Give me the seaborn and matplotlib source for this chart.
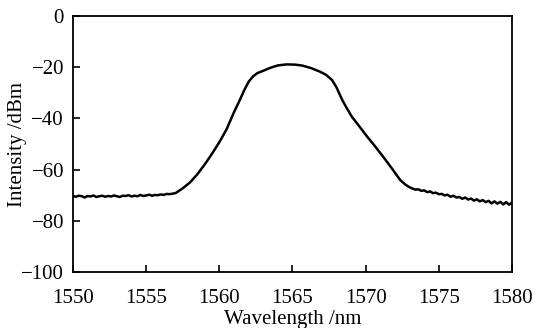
import numpy as np
import pandas as pd
import seaborn as sns
import matplotlib
matplotlib.use("Agg")
import matplotlib.pyplot as plt

# Wavelength (nm) and intensity (dBm)
wl_left = [1550.0, 1550.2, 1550.4, 1550.6, 1550.8, 1551.0, 1551.2, 1551.4, 1551.6, 1551.8,
           1552.0, 1552.2, 1552.4, 1552.6, 1552.8, 1553.0, 1553.2, 1553.4, 1553.6, 1553.8,
           1554.0, 1554.2, 1554.4, 1554.6, 1554.8, 1555.0, 1555.2, 1555.4, 1555.6, 1555.8,
           1556.0, 1556.2, 1556.4, 1556.6, 1556.8]
db_left = [-70.3, -70.6, -70.2, -70.4, -70.9, -70.3, -70.5, -70.1, -70.7, -70.4,
           -70.2, -70.6, -70.3, -70.5, -70.1, -70.4, -70.7, -70.2, -70.3, -70.0,
           -70.5, -70.2, -70.4, -69.9, -70.3, -70.1, -69.8, -70.2, -69.9, -70.0,
           -69.7, -69.9, -69.5, -69.6, -69.4]

wl_mid = [1557.0, 1557.5, 1558.0, 1558.5, 1559.0, 1559.5, 1560.0, 1560.5, 1561.0, 1561.4,
          1561.7, 1562.0, 1562.3, 1562.6, 1563.0, 1563.5, 1564.0, 1564.6, 1565.2, 1565.7,
          1566.3, 1566.9, 1567.3, 1567.7, 1568.0, 1568.4, 1568.7, 1569.05, 1569.5, 1570.1,
          1570.6, 1571.2, 1571.8, 1572.35, 1572.7, 1573.0]
db_mid = [-69.2, -67.3, -65.0, -61.8, -58.0, -53.8, -49.3, -44.2, -37.6, -32.8,
          -29.0, -25.7, -23.6, -22.3, -21.4, -20.2, -19.3, -18.9, -19.0, -19.4,
          -20.4, -21.8, -23.0, -25.0, -27.8, -32.8, -35.9, -39.3, -42.6, -47.1,
          -50.6, -55.0, -59.6, -64.0, -65.8, -66.9]

wl_right = [1573.2, 1573.4, 1573.6, 1573.8, 1574.0, 1574.2, 1574.4, 1574.6, 1574.8, 1575.0,
            1575.2, 1575.4, 1575.6, 1575.8, 1576.0, 1576.2, 1576.4, 1576.6, 1576.8, 1577.0,
            1577.2, 1577.4, 1577.6, 1577.8, 1578.0, 1578.2, 1578.4, 1578.6, 1578.8, 1579.0,
            1579.2, 1579.4, 1579.6, 1579.8, 1580.0]
db_right = [-67.4, -67.8, -67.7, -68.3, -68.1, -68.8, -68.5, -69.2, -69.0, -69.6,
            -69.5, -70.1, -69.8, -70.6, -70.2, -70.9, -70.7, -71.4, -70.9, -71.7,
            -71.3, -72.1, -71.6, -72.4, -71.9, -72.7, -72.2, -73.2, -72.4, -73.3,
            -72.6, -73.6, -72.7, -73.7, -72.8]

xticks = [1550, 1555, 1560, 1565, 1570, 1575, 1580]
yticks = [0, -20, -40, -60, -80, -100]

df = pd.DataFrame({
    "wl": wl_left + wl_mid + wl_right,
    "db": db_left + db_mid + db_right,
})

sns.set_theme(style="white")
plt.rcParams["font.family"] = ["Liberation Serif", "DejaVu Serif"]

fig = plt.figure(figsize=(5.34, 3.28), dpi=100)
ax = fig.add_axes([0.1367, 0.1707, 0.8221, 0.7805])
sns.lineplot(data=df, x="wl", y="db", ax=ax, color="black", linewidth=1.8, sort=False)

ax.set_xlim(1550, 1580)
ax.set_ylim(-100, 0)
ax.set_xticks(xticks)
ax.set_yticks(yticks)
ax.set_xticklabels([str(t) for t in xticks])
ax.set_yticklabels([str(t).replace("-", "\u2212") for t in yticks])
ax.tick_params(axis="both", direction="in", length=5, width=1.2, labelsize=15,
               bottom=True, left=True, top=False, right=False, colors="black")
ax.tick_params(axis="x", pad=12)
ax.tick_params(axis="y", pad=6.5)
for s in ax.spines.values():
    s.set_color("black")
    s.set_linewidth(1.3)
ax.set_xlabel("Wavelength /nm", fontsize=15, labelpad=1.5, color="black")
ax.set_ylabel("Intensity /dBm", fontsize=15, labelpad=-4, color="black")

fig.savefig("out.png", dpi=100)
